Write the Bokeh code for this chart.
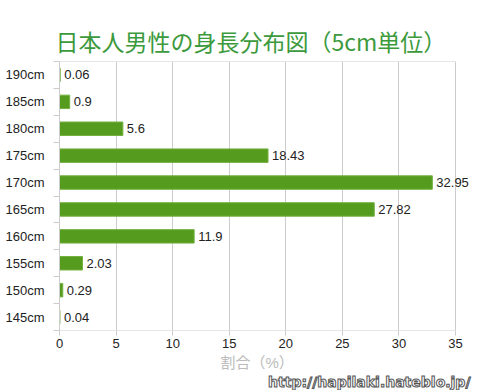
from bokeh.plotting import figure
from bokeh.models import FixedTicker, ColumnDataSource, Title
from bokeh.core.properties import value
from bokeh.embed import file_html
from bokeh.resources import INLINE

categories = ["145cm", "150cm", "155cm", "160cm", "165cm", "170cm", "175cm", "180cm", "185cm", "190cm"]
percent = [0.04, 0.29, 2.03, 11.9, 27.82, 32.95, 18.43, 5.6, 0.9, 0.06]
x_ticks = [0, 5, 10, 15, 20, 25, 30, 35]
title_text = "日本人男性の身長分布図（5cm単位）"
x_label = "割合（%）"
watermark = "http://hapilaki.hateblo.jp/"

x_max = 35
x_end = 37.12
pos = [i + 0.5 for i in range(len(categories))]
src = ColumnDataSource(dict(y=pos, v=percent, lab=[str(v) for v in percent]))

p = figure(output_backend="svg", toolbar_location=None,
           x_range=(0, x_end), y_range=(0, len(categories)),
           frame_width=420, frame_height=269,
           min_border_left=59, min_border_right=1, min_border_top=61, min_border_bottom=58)
p.outline_line_color = None
p.title = None

p.hbar(y="y", right="v", left=0, height=0.5, source=src,
       fill_color="#559c1e", line_color="#74b040", line_width=1)
p.text(x="v", y="y", text="lab", source=src, x_offset=4, text_baseline="middle",
       text_font=value("Liberation Sans"), text_font_size="13px", text_color="#222222")

p.segment(x0=[0, 0], y0=[0, len(categories)], x1=[x_max, x_max], y1=[0, len(categories)],
          line_color="#cccccc", line_width=1)

p.xaxis.ticker = FixedTicker(ticks=x_ticks)
p.xaxis.axis_line_color = None
p.xaxis.major_tick_line_color = "#cccccc"
p.xaxis.major_tick_out = 5
p.xaxis.major_tick_in = 0
p.xaxis.minor_tick_line_color = None
p.xaxis.major_label_text_font = "Liberation Sans"
p.xaxis.major_label_text_font_size = "13px"
p.xaxis.major_label_text_color = "#222222"
p.xaxis.major_label_standoff = 3

p.xgrid.ticker = FixedTicker(ticks=x_ticks)
p.xgrid.grid_line_color = "#cccccc"
p.ygrid.grid_line_color = None

p.yaxis.ticker = FixedTicker(ticks=pos, minor_ticks=list(range(len(categories) + 1)))
p.yaxis.major_label_overrides = {pv: c for pv, c in zip(pos, categories)}
p.yaxis.axis_line_color = "#cccccc"
p.yaxis.major_tick_line_color = None
p.yaxis.minor_tick_line_color = "#cccccc"
p.yaxis.minor_tick_out = 6
p.yaxis.minor_tick_in = 0
p.yaxis.major_label_standoff = 9
p.yaxis.major_label_text_font = "Liberation Sans"
p.yaxis.major_label_text_font_size = "13px"
p.yaxis.major_label_text_color = "#222222"

p.add_layout(Title(text=title_text, align="left", offset=-4, standoff=8,
                   text_font="Noto Sans CJK JP", text_font_style="normal",
                   text_font_size="23px", text_color="#3c9a3c"), "above")

p.add_layout(Title(text=x_label, align="left", offset=161, standoff=2,
                   text_font="Liberation Sans, Noto Sans CJK JP", text_font_style="normal",
                   text_font_size="15px", text_color="#bbbbbb"), "below")

p.add_layout(Title(text=watermark, align="right", offset=9, standoff=1,
                   text_font="DejaVu Sans", text_font_style="bold",
                   text_font_size="14px", text_color="white",
                   text_outline_color="#555555"), "below")

open("out.html", "w").write(file_html(p, INLINE))
